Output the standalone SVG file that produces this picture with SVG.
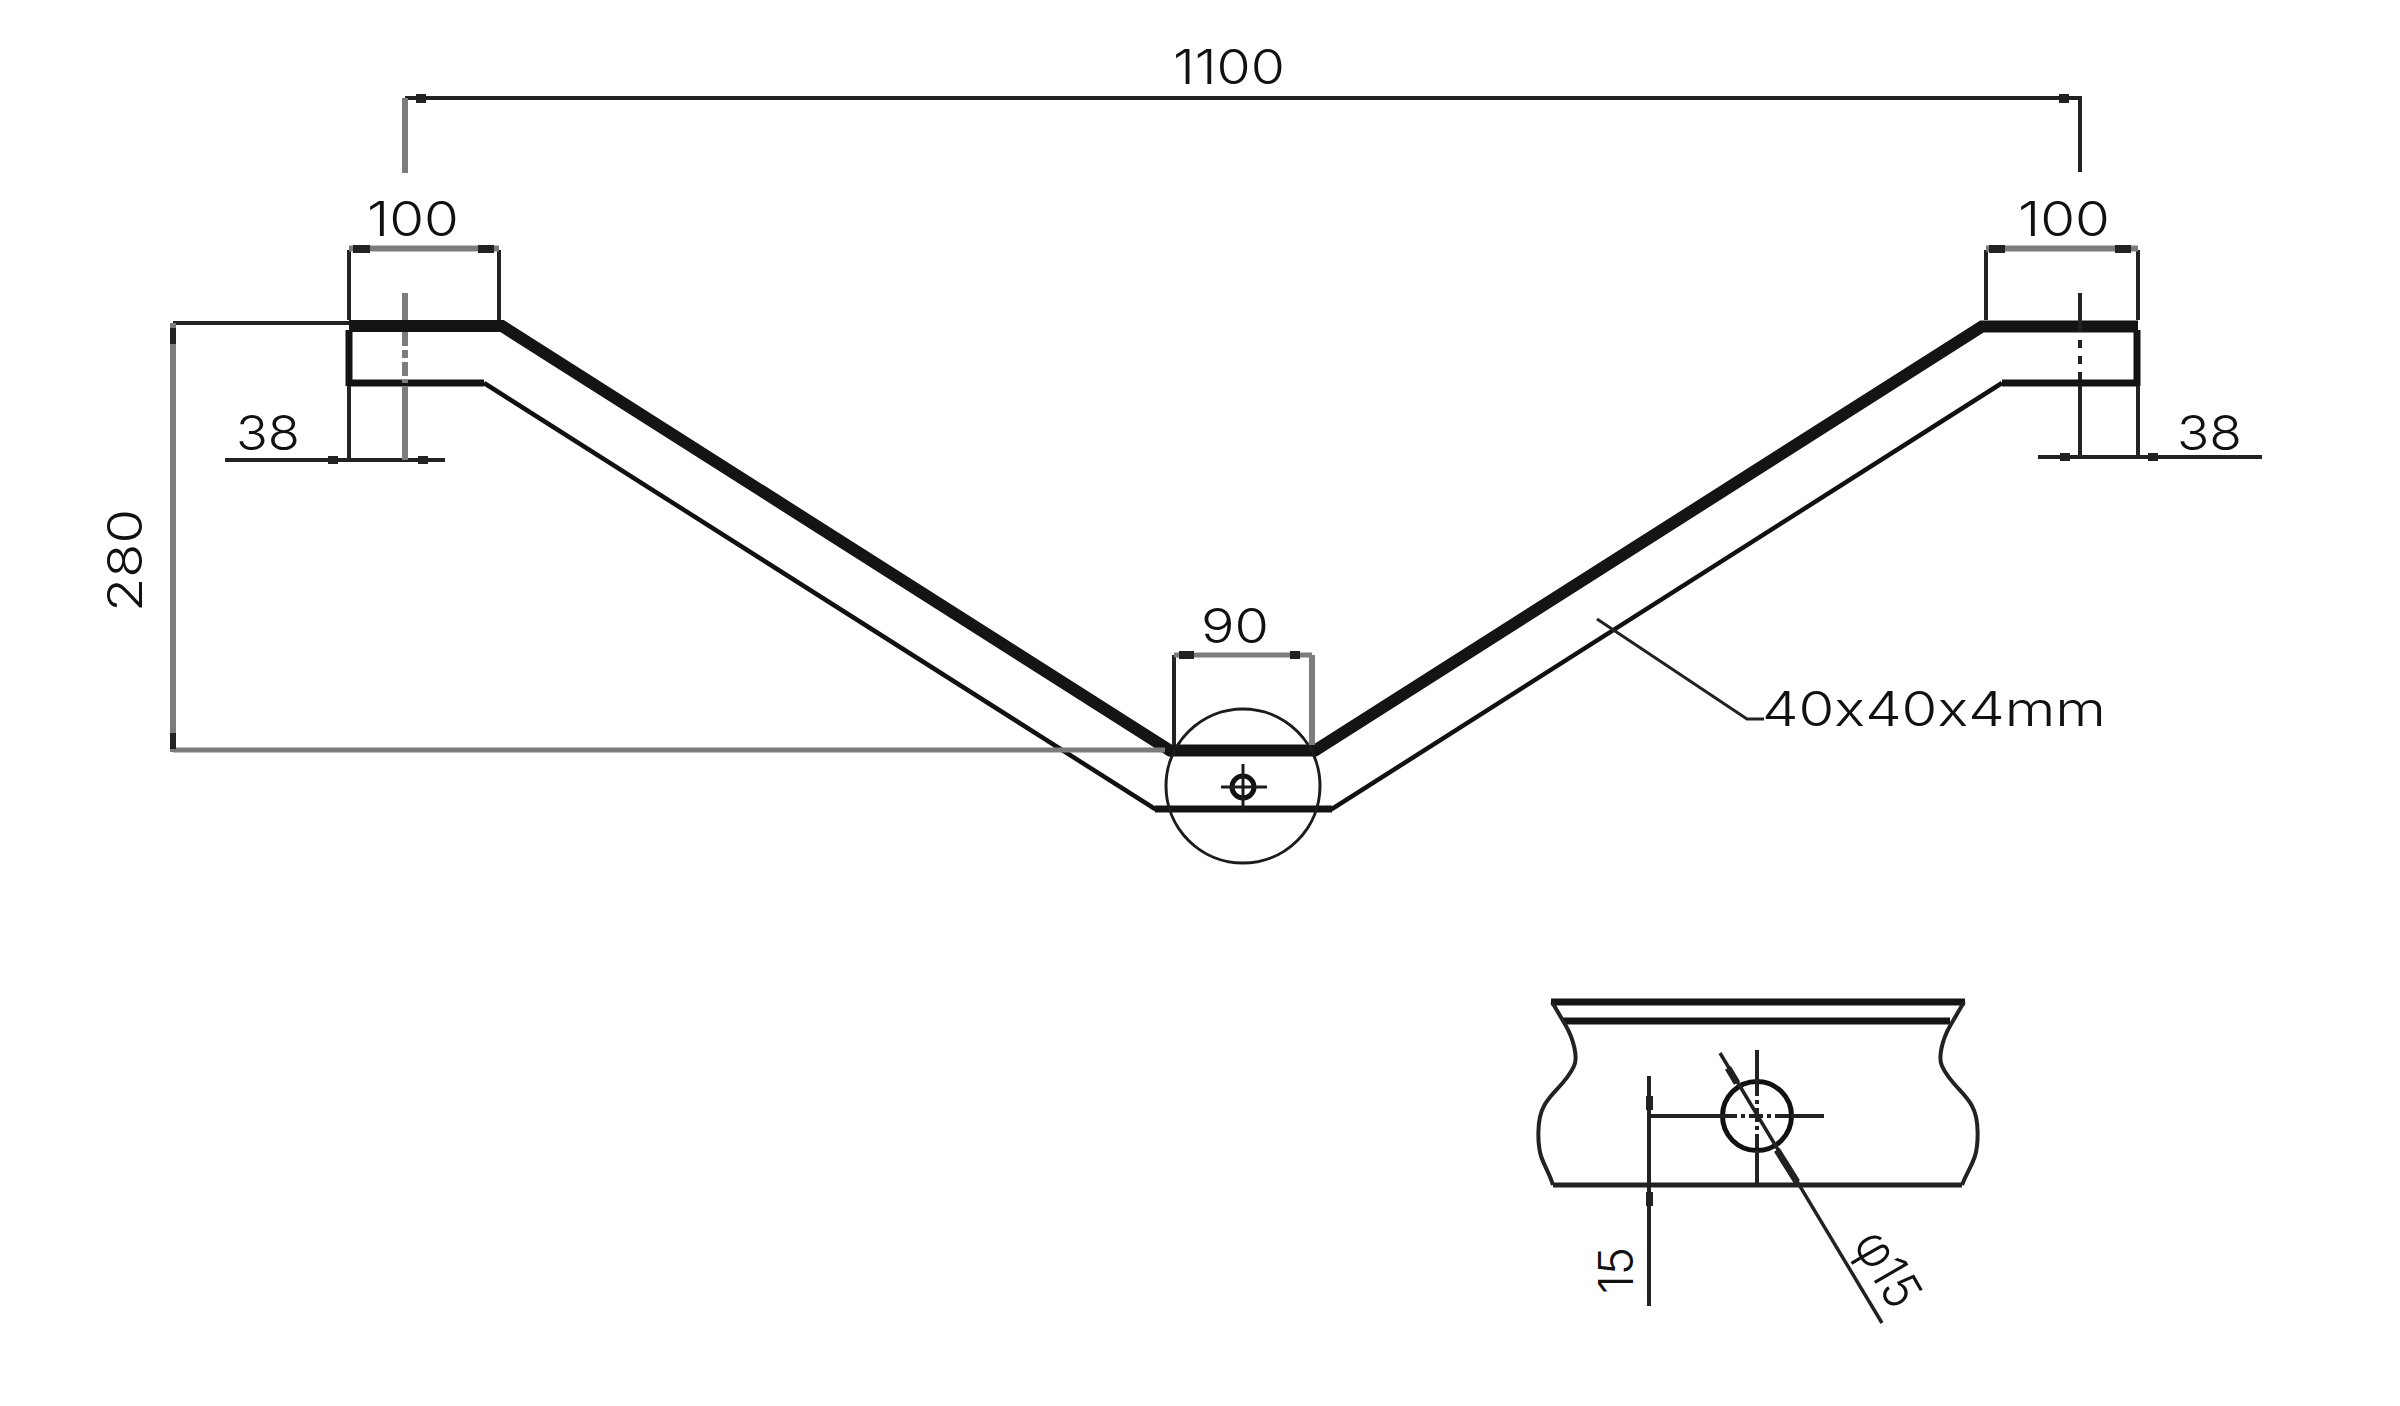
<svg xmlns="http://www.w3.org/2000/svg" width="2400" height="1406" viewBox="0 0 2400 1406">
<style>
text{font-family:"Inter","Noto Sans","Liberation Sans",sans-serif;font-weight:300;font-size:48px;fill:#111;font-feature-settings:"calt" 0;font-variant-ligatures:none}
.d{fill:none;stroke:#222;stroke-width:4;stroke-linecap:butt}
.g{fill:none;stroke:#7c7c7c;stroke-width:6}
.t{fill:none;stroke:#111;stroke-width:4.500}
.k{fill:none;stroke:#141414;stroke-width:7}
.b{fill:none;stroke:#141414;stroke-width:12;stroke-linejoin:miter}
.a{fill:#222;stroke:none}
.n{fill:none;stroke:#1c1c1c;stroke-width:3}
</style>
<rect width="2400" height="1406" fill="#fff"/>
<g id="bracket">
<path class="b" d="M349 326H502L1170 750.500H1315L1982 326.500H2138"/>
<path class="t" d="M484 383L1155 809H1332L2002 383"/>
<path class="k" d="M349 383H484M2002 383H2140M1155 809H1332"/>
<path class="k" d="M349 330V386M2137 330V386"/>
</g>
<g id="pivot-plate">
<circle class="n" cx="1243" cy="786" r="77"/>
<circle cx="1243" cy="787" r="11" fill="none" stroke="#111" stroke-width="5"/>
<path class="n" d="M1221 787H1267M1243 764V809"/>
</g>
<g id="detail">
<path class="k" d="M1551 1002H1965"/>
<path class="k" d="M1563 1021H1950"/>
<path class="d" style="stroke-width:5" d="M1553 1185H1962"/>
<path class="d" d="M1552 1002L1566 1026C1574 1040 1578 1058 1574 1066C1566 1084 1551 1092 1544 1106C1536 1120 1538 1146 1541 1156C1545 1168 1549 1172 1553 1185"/>
<path class="d" d="M1964 1002L1950 1026C1942 1040 1938 1058 1942 1066C1950 1084 1965 1092 1972 1106C1980 1120 1978 1146 1975 1156C1971 1168 1967 1172 1962 1185"/>
<circle cx="1757" cy="1116" r="34.500" fill="none" stroke="#111" stroke-width="5"/>
<path class="d" d="M1757 1050V1082M1757 1150V1185M1791 1116H1824"/>
<path class="d" stroke-dasharray="14 4 4 4" d="M1757 1082V1150M1723 1116H1791"/>
</g>
<g id="connectors">
<path class="d" d="M405 98H2080V172"/>
<path class="g" d="M405 98V173"/>
<path class="a" d="M416 94h10v9h-10zM2059 94h10v9h-10z"/>

<path class="d" d="M349 250V320M499 250V320M1986 250V320M2138 250V320"/>
<path class="g" d="M349 248.500H499M1986 248.500H2138"/>
<path class="a" d="M353 245h17v8h-17zM478 245h16v8h-16zM1989 245h16v8h-16zM2115 245h16v8h-16z"/>

<path class="d" d="M225 460H445M2038 457H2262M349 386V460M2138 386V457"/>
<path class="g" d="M405 293V320M405 386V460"/>
<path class="g" stroke-dasharray="14 4 8 4" d="M405 332V383"/>
<path class="d" d="M2080 293V332M2080 386V457"/>
<path class="d" stroke-dasharray="8 8 8 8" d="M2080 340V383"/>
<path class="a" d="M328 456h10v8h-10zM418 456h10v8h-10zM2060 453h10v8h-10zM2148 453h10v8h-10z"/>

<path class="d" d="M173 323H349"/>
<path class="g" d="M173 323V752"/>
<path class="g" style="stroke-width:5" d="M173 750H1165"/>
<path class="a" d="M170 328h6v16h-6zM170 733h6v16h-6z"/>

<path class="d" d="M1174 655V745"/>
<path class="g" d="M1312 655V745"/>
<path class="g" style="stroke-width:5" d="M1174 655H1312"/>
<path class="a" d="M1179 651h15v8h-15zM1290 651h10v8h-10z"/>

<path class="d" style="stroke-width:3" d="M1597 619L1747 719H1764"/>

<path class="d" d="M1649 1076V1306"/>
<path class="d" d="M1649 1116H1723"/>
<path class="a" d="M1646 1096h7v14h-7zM1646 1192h7v14h-7z"/>
<path class="d" style="stroke-width:3.500" d="M1720 1053L1882 1323"/>
<path class="d" style="stroke-width:7" d="M1728 1068L1737 1083M1777 1150L1797 1182"/>
</g>
<g id="labels">
<text x="1173" y="84" textLength="112" lengthAdjust="spacingAndGlyphs">1100</text>
<text x="367" y="236" textLength="92" lengthAdjust="spacingAndGlyphs">100</text>
<text x="2018" y="236" textLength="92" lengthAdjust="spacingAndGlyphs">100</text>
<text x="236" y="450" textLength="64" lengthAdjust="spacingAndGlyphs">38</text>
<text x="2177" y="450" textLength="65" lengthAdjust="spacingAndGlyphs">38</text>
<text x="1201" y="643" textLength="68" lengthAdjust="spacingAndGlyphs">90</text>
<text x="1762" y="726" textLength="344" lengthAdjust="spacingAndGlyphs">40x40x4mm</text>
<text transform="translate(142 612) rotate(-90)" textLength="103" lengthAdjust="spacingAndGlyphs">280</text>
<text transform="translate(1633 1294) rotate(-90)" textLength="47" lengthAdjust="spacingAndGlyphs">15</text>
<text transform="translate(1852 1243) rotate(60)" style="font-size:52px" textLength="80" lengthAdjust="spacingAndGlyphs">φ15</text>
</g>
</svg>
